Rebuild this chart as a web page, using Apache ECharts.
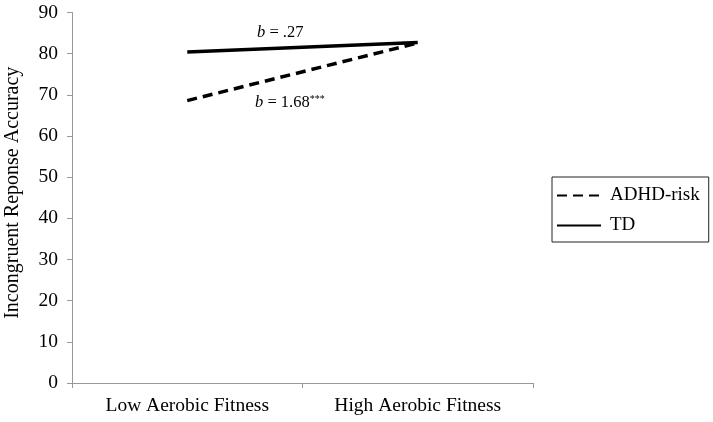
<!DOCTYPE html>
<html>
<head>
<meta charset="utf-8">
<script src="https://cdn.jsdelivr.net/npm/echarts@6/dist/echarts.min.js"></script>
<style>
  html, body { margin: 0; padding: 0; background: #fff; }
  #main { width: 713px; height: 422px; }
</style>
</head>
<body>
<div id="main"></div>
<script>
var categories = ['Low Aerobic Fitness', 'High Aerobic Fitness'];
var adhdRisk = [68.6, 82.6];
var td = [80.4, 82.7];
var yTicks = [0, 90, 10];  // min, max, interval

var chart = echarts.init(document.getElementById('main'));
var serif = '"Liberation Serif", "DejaVu Serif", serif';

chart.setOption({
  animation: false,
  grid: { left: 72, right: 180, top: 12.5, bottom: 39, outerBoundsMode: 'none', containLabel: false },
  legend: {
    orient: 'vertical',
    left: 552, top: 177,
    padding: [9, 9, 7, 4],
    borderColor: '#222', borderWidth: 1,
    itemWidth: 44, itemHeight: 20, itemGap: 11,
    itemStyle: { opacity: 0 },
    textStyle: { fontFamily: serif, fontSize: 19, color: '#000', padding: [0, 0, 0, 4] },
    data: ['ADHD-risk', 'TD']
  },
  xAxis: {
    type: 'category',
    data: categories,
    boundaryGap: true,
    axisLine: { lineStyle: { color: '#999', width: 1 } },
    axisTick: { show: true, length: 5, lineStyle: { color: '#999' } },
    axisLabel: { fontFamily: serif, fontSize: 19.5, color: '#000', margin: 13 }
  },
  yAxis: {
    type: 'value',
    min: yTicks[0], max: yTicks[1], interval: yTicks[2],
    name: 'Incongruent Reponse Accuracy',
    nameLocation: 'middle',
    nameGap: 49,
    nameTextStyle: { fontFamily: serif, fontSize: 20, color: '#000', padding: [0, 0, 0, 10] },
    axisLine: { show: true, lineStyle: { color: '#999', width: 1 } },
    axisTick: { show: true, length: 5, lineStyle: { color: '#999' } },
    splitLine: { show: false },
    axisLabel: { fontFamily: serif, fontSize: 19.5, color: '#000', margin: 14 }
  },
  graphic: [
    {
      type: 'text', left: 257, top: 24,
      style: {
        text: '{i|b} = .27',
        rich: { i: { fontStyle: 'italic', fontFamily: serif, fontSize: 16.5 } },
        fontFamily: serif, fontSize: 16.5, fill: '#000'
      }
    },
    {
      type: 'text', left: 255, top: 94,
      style: {
        text: '{i|b} = 1.68{s|***}',
        rich: {
          i: { fontStyle: 'italic', fontFamily: serif, fontSize: 16.5 },
          s: { fontFamily: serif, fontSize: 10, verticalAlign: 'top', padding: [0, 0, 7, 0] }
        },
        fontFamily: serif, fontSize: 16.5, fill: '#000'
      }
    }
  ],
  series: [
    {
      name: 'ADHD-risk', type: 'line', data: adhdRisk,
      symbol: 'none',
      itemStyle: { color: '#000' },
      lineStyle: { color: '#000', width: 3.5, type: [10, 6] }
    },
    {
      name: 'TD', type: 'line', data: td,
      symbol: 'none',
      itemStyle: { color: '#000' },
      lineStyle: { color: '#000', width: 3.5 }
    }
  ]
});
</script>
</body>
</html>
